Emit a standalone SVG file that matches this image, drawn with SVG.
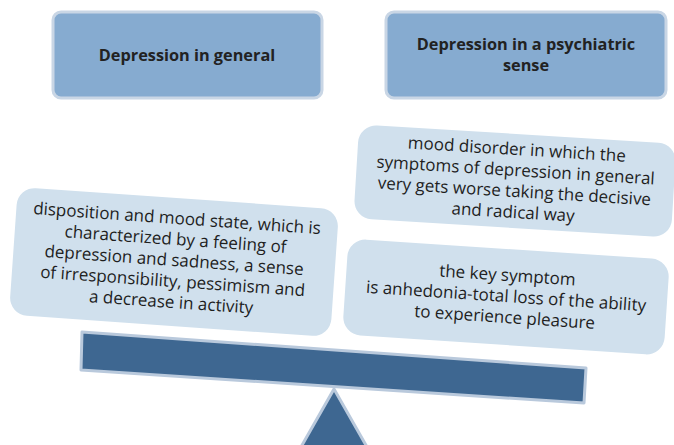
<svg xmlns="http://www.w3.org/2000/svg" width="674" height="445" viewBox="0 0 674 445">
<style>
.hdr{fill:#86abd0;stroke:#c9d6e5;stroke-width:3}
.box{fill:#d0e0ed}
.ht{font-family:"Open Sans","Noto Sans",sans-serif;font-weight:bold;font-size:16.3px;fill:#222;text-anchor:middle}
.bt{font-family:"Open Sans","Noto Sans",sans-serif;font-size:17px;fill:#1e1e1e;text-anchor:middle}
.beam{fill:#3e6791;stroke:#b9c9dc;stroke-width:3;stroke-linejoin:round}
</style>
<rect width="674" height="445" fill="#ffffff"/>
<g id="header-general">
<rect class="hdr" x="53" y="12" width="269" height="86" rx="8"/>
<text class="ht" x="187" y="61">Depression in general</text>
</g>
<g id="header-psychiatric">
<rect class="hdr" x="386" y="12" width="280" height="86" rx="8"/>
<text class="ht" x="526" y="50">Depression in a psychiatric</text>
<text class="ht" x="526" y="71">sense</text>
</g>
<g id="box-general" transform="rotate(4 174 262)">
<rect class="box" x="13" y="198" width="322" height="128" rx="18"/>
<text class="bt" x="174" y="224">disposition and mood state, which is</text>
<text class="bt" x="174" y="245">characterized by a feeling of</text>
<text class="bt" x="174" y="266">depression and sadness, a sense</text>
<text class="bt" x="174" y="287">of irresponsibility, pessimism and</text>
<text class="bt" x="174" y="308">a decrease in activity</text>
</g>
<g id="box-disorder" transform="rotate(3.5 515 181)">
<rect class="box" x="356" y="134" width="318" height="94" rx="18"/>
<text class="bt" x="515" y="155">mood disorder in which the</text>
<text class="bt" x="515" y="176">symptoms of depression in general</text>
<text class="bt" x="515" y="197">very gets worse taking the decisive</text>
<text class="bt" x="515" y="218">and radical way</text>
</g>
<g id="box-symptom" transform="rotate(3.8 506 297)">
<rect class="box" x="345" y="249" width="322" height="96" rx="18"/>
<text class="bt" x="506" y="281">the key symptom</text>
<text class="bt" x="506" y="302">is anhedonia-total loss of the ability</text>
<text class="bt" x="506" y="323">to experience pleasure</text>
</g>
<g id="scale">
<polygon class="beam" points="82,332 586,368 584,403 81,370"/>
<polygon class="beam" points="334,389 301,447 367,447"/>
</g>
</svg>
